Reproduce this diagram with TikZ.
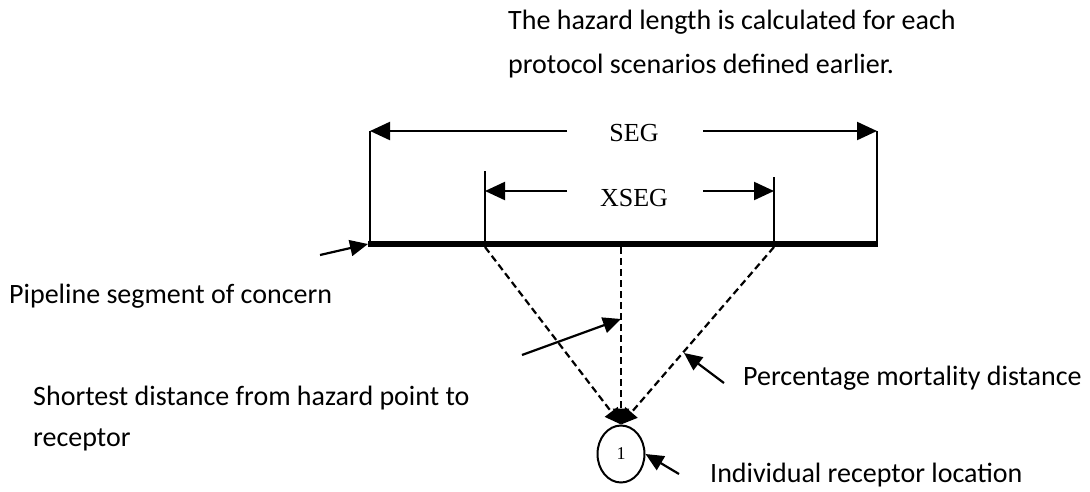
\documentclass[tikz,border=0pt]{standalone}
\usepackage{fontspec}
\setmainfont{Carlito}
\newfontfamily\serifdim{Liberation Serif}
\usetikzlibrary{arrows.meta,shapes.geometric}
\begin{document}
\begin{tikzpicture}[x=1pt,y=-1pt,
  lbl/.style={anchor=west,inner sep=0pt,font=\fontsize{28}{32}\selectfont},
  dimtxt/.style={inner sep=0pt,font=\serifdim\fontsize{26}{28}\selectfont},
  dimline/.style={line width=2.2pt},
  dimarrow/.style={line width=2.2pt,-{Triangle[length=20pt,width=18pt]}},
  ptr/.style={line width=2.2pt,-{Triangle[length=18pt,width=16pt]}},
  dashline/.style={line width=2.2pt,dash pattern=on 7pt off 4pt,-{Triangle[length=16pt,width=16pt]}},
  pipe/.style={line width=6.5pt}]
\useasboundingbox (0,0) rectangle (1090,491);
% pipeline
\coordinate (pL) at (368,244);
\coordinate (pR) at (878,244);
\draw[pipe] (pL) -- (pR);
% SEG dimension
\coordinate (segL) at (370,131);
\coordinate (segR) at (877,131);
\node[dimtxt] (seg) at (634,133) {SEG};
\draw[dimline] (370,244) -- (segL);
\draw[dimline] (877,244) -- (segR);
\draw[dimarrow] (567,131) -- (segL);
\draw[dimarrow] (703,131) -- (segR);
% XSEG dimension
\coordinate (xsL) at (485,191);
\coordinate (xsR) at (774,191);
\node[dimtxt] (xseg) at (634,198) {XSEG};
\draw[dimline] (485,244) -- (485,171);
\draw[dimline] (774,244) -- (774,177);
\draw[dimarrow] (567,191) -- (xsL);
\draw[dimarrow] (703,191) -- (xsR);
% receptor
\node[ellipse,draw,line width=2pt,minimum width=47pt,minimum height=57pt,inner sep=0pt,
  font=\serifdim\fontsize{18}{20}\selectfont] (rec) at (621,454) {1};
\coordinate (dL) at (485,247);
\coordinate (dM) at (621,247);
\coordinate (dR) at (774,247);
\draw[dashline] (dL) -- (rec.north);
\draw[dashline] (dM) -- (rec.north);
\draw[dashline] (dR) -- (rec.north);
% pointers
\coordinate (pipeTail) at (320,255);
\draw[ptr] (pipeTail) -- (pL);
\coordinate (shTail) at (522,355);
\coordinate (shTip) at (621,319);
\draw[ptr] (shTail) -- (shTip);
\coordinate (pmTail) at (724,383);
\coordinate (pmTip) at (684,353);
\draw[ptr] (pmTail) -- (pmTip);
\coordinate (irTail) at (679,474);
\draw[ptr] (irTail) -- (rec.east);
% labels
\node[lbl] (t1) at (508,22) {The hazard length is calculated for each};
\node[lbl] (t2) at (508,66) {protocol scenarios defined earlier.};
\node[lbl] (pipeLbl) at (9,296) {Pipeline segment of concern};
\node[lbl] (sh1) at (33,398) {Shortest distance from hazard point to};
\node[lbl] (sh2) at (33,440) {receptor};
\node[lbl] (pm) at (743,378) {Percentage mortality distance};
\node[lbl] (ir) at (710,475) {Individual receptor location};
\end{tikzpicture}
\end{document}
